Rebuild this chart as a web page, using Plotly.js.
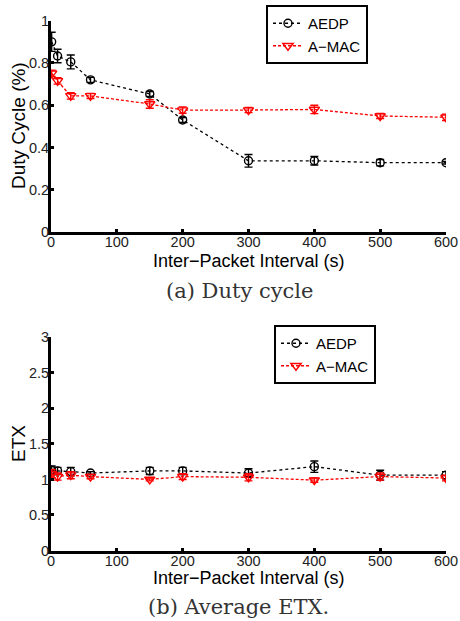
<!DOCTYPE html>
<html>
<head>
<meta charset="utf-8">
<script src="https://cdn.plot.ly/plotly-3.0.1.min.js"></script>
<style>html,body{margin:0;padding:0;background:#fff;}#chart{width:460px;height:621px;}</style>
</head>
<body>
<div id="chart"></div>
<script>
const intervals = [1, 10, 30, 60, 150, 200, 300, 400, 500, 600];
const dutyAEDP = [0.90, 0.833, 0.805, 0.72, 0.653, 0.53, 0.337, 0.337, 0.328, 0.328];
const dutyAEDPErr = [0.045, 0.032, 0.033, 0.012, 0.012, 0.012, 0.03, 0.02, 0.015, 0.006];
const dutyAMAC = [0.751, 0.715, 0.644, 0.644, 0.606, 0.577, 0.577, 0.58, 0.549, 0.543];
const dutyAMACErr = [0.015, 0.015, 0.015, 0.012, 0.02, 0.015, 0.012, 0.02, 0.012, 0.015];
const etxAEDP = [1.13, 1.12, 1.11, 1.09, 1.12, 1.12, 1.09, 1.18, 1.06, 1.06];
const etxAEDPErr = [0.06, 0.05, 0.06, 0.02, 0.05, 0.05, 0.06, 0.08, 0.07, 0.05];
const etxAMAC = [1.08, 1.04, 1.06, 1.04, 1.0, 1.04, 1.03, 0.99, 1.04, 1.02];
const etxAMACErr = [0.06, 0.05, 0.05, 0.03, 0.02, 0.04, 0.05, 0.03, 0.05, 0.04];
const xTicks = [0, 100, 200, 300, 400, 500, 600];
const dutyTicks = [0, 0.2, 0.4, 0.6, 0.8, 1];
const dutyTickText = ['0', '0.2', '0.4', '0.6', '0.8', '1'];
const etxTicks = [0, 0.5, 1, 1.5, 2, 2.5, 3];
const etxTickText = ['0', '0.5', '1', '1.5', '2', '2.5', '3'];
const xTitle = 'Inter\u2212Packet Interval (s)';
const captionA = '(a) Duty cycle';
const captionB = '(b) Average ETX.';

const font = 'Liberation Sans, Arial, sans-serif';
function tr(x, y, err, name, color, sym, dash, xa, ya, leg, size) {
  return {
    x: x, y: y, name: name, type: 'scatter', mode: 'lines+markers',
    xaxis: xa, yaxis: ya, legend: leg,
    line: {color: color, width: 1.3, dash: dash},
    marker: {symbol: sym, size: size, color: color, line: {color: color, width: 1.4}},
    error_y: {type: 'data', array: err, visible: true, color: color, thickness: 1.4, width: 4}
  };
}
const data = [
  tr(intervals, dutyAEDP, dutyAEDPErr, 'AEDP', 'black', 'circle-open', 'dot', 'x', 'y', 'legend', 8),
  tr(intervals, dutyAMAC, dutyAMACErr, 'A\u2212MAC', 'red', 'triangle-down-open', '3px,2px', 'x', 'y', 'legend', 9),
  tr(intervals, etxAEDP, etxAEDPErr, 'AEDP', 'black', 'circle-open', 'dot', 'x2', 'y2', 'legend2', 8),
  tr(intervals, etxAMAC, etxAMACErr, 'A\u2212MAC', 'red', 'triangle-down-open', '3px,2px', 'x2', 'y2', 'legend2', 9)
];
const xdom = [51/460, 446/460];
function xax(anchor) {
  return {
    domain: xdom, range: [0, 600], anchor: anchor, tickvals: xTicks, ticktext: xTicks.map(String),
    ticks: 'inside', ticklen: 3, tickwidth: 3, tickcolor: 'black', ticklabelstandoff: -5,
    showline: true, linewidth: 3, linecolor: 'black', showgrid: false, zeroline: false,
    tickfont: {family: font, size: 14.5, color: '#222'}
  };
}
function yax(anchor, dom, range, tv, tt) {
  return {
    domain: dom, range: range, anchor: anchor, tickvals: tv, ticktext: tt,
    ticks: 'inside', ticklen: 3, tickwidth: 3, tickcolor: 'black', ticklabelstandoff: -4,
    showline: true, linewidth: 3, linecolor: 'black', showgrid: false, zeroline: false,
    tickfont: {family: font, size: 14.5, color: '#222'}
  };
}
function ann(text, x, y, size, family, color, angle) {
  return {text: text, xref: 'paper', yref: 'paper', x: x / 460, y: (621 - y) / 621,
    xanchor: 'center', yanchor: 'middle', showarrow: false, textangle: angle || 0,
    font: {family: family, size: size, color: color}};
}
const serif = 'DejaVu Serif, serif';
const layout = {
  width: 460, height: 621,
  margin: {l: 0, r: 0, t: 0, b: 0},
  paper_bgcolor: 'white', plot_bgcolor: 'white',
  showlegend: true,
  xaxis: xax('y'),
  yaxis: yax('x', [(621-232)/621, (621-20.7)/621], [0, 1], dutyTicks, dutyTickText),
  xaxis2: xax('y2'),
  yaxis2: yax('x2', [(621-550.5)/621, (621-337.3)/621], [0, 3], etxTicks, etxTickText),
  legend: {x: 266/460, y: (621-5)/621, xanchor: 'left', yanchor: 'top', bordercolor: 'black', borderwidth: 2,
    bgcolor: 'white', font: {family: font, size: 15, color: 'black'}, tracegroupgap: 0},
  legend2: {x: 274/460, y: (621-325)/621, xanchor: 'left', yanchor: 'top', bordercolor: 'black', borderwidth: 2,
    bgcolor: 'white', font: {family: font, size: 15, color: 'black'}, tracegroupgap: 0},
  annotations: [
    ann(xTitle, 249, 261, 18, font, 'black'),
    ann(xTitle, 249, 578, 18, font, 'black'),
    ann('Duty Cycle (%)', 18, 126, 19, font, 'black', -90),
    ann('ETX', 18, 444, 19, font, 'black', -90),
    ann(captionA, 239, 291, 21, serif, '#333'),
    ann(captionB, 238, 607, 21, serif, '#333')
  ]
};
Plotly.newPlot('chart', data, layout, {displayModeBar: false, staticPlot: true});
</script>
</body>
</html>
